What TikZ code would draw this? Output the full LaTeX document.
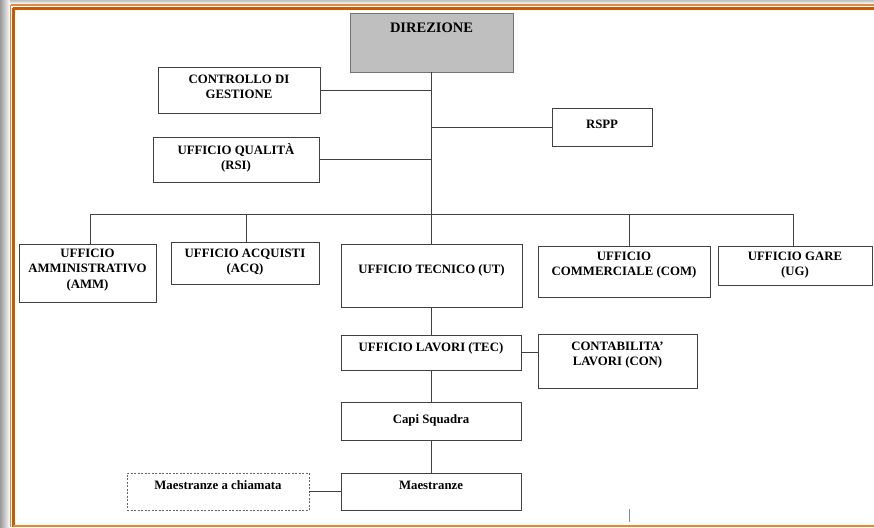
\documentclass[tikz,border=0pt]{standalone}
\usepackage{fontspec}
\setmainfont{Liberation Serif}
\usetikzlibrary{positioning}
\definecolor{orangeA}{HTML}{C85A00}
\definecolor{orangeB}{HTML}{E08A2C}
\definecolor{lineC}{HTML}{404040}
\begin{document}
\begin{tikzpicture}[x=1pt,y=-1pt,
  box/.style={draw=lineC, line width=0.9pt, fill=white, inner sep=0pt},
  txt/.style={font=\bfseries\fontsize{12.8}{15.5}\selectfont, align=center, inner sep=0pt, text=black},
  conn/.style={draw=lineC, line width=0.8pt}]
\useasboundingbox (0,0) rectangle (874,527);
% frame
\shade[left color=black!40, right color=white] (0,0) rectangle (10,527);
\shade[top color=black!25, bottom color=white] (10,0) rectangle (874,4);
\draw[orangeA!70, line width=1.2pt] (10.5,5) -- (874,5);
\draw[orangeA, line width=3pt] (12.5,8.5) -- (874,8.5);
\draw[orangeA!70, line width=1.2pt] (10.5,5) -- (10.5,527);
\draw[orangeA, line width=3pt] (13,8.5) -- (13,527);
\draw[orangeB, line width=2.5pt] (13,525.8) -- (874,525.8);

% boxes
\node[box, fill=black!25, draw=black!55, minimum width=163, minimum height=59] (dir) at (431.5,42.5) {};
\node[box, minimum width=162, minimum height=46] (cdg) at (239,90) {};
\node[box, minimum width=100, minimum height=38] (rspp) at (602,127) {};
\node[box, minimum width=166, minimum height=45] (qual) at (236,159.5) {};
\node[box, minimum width=137, minimum height=58] (amm) at (87.5,273) {};
\node[box, minimum width=148, minimum height=42] (acq) at (245,263) {};
\node[box, minimum width=181, minimum height=63] (ut) at (431.5,275.5) {};
\node[box, minimum width=172, minimum height=51] (com) at (624,271.5) {};
\node[box, minimum width=154, minimum height=39] (ug) at (795,265.5) {};
\node[box, minimum width=180, minimum height=35] (lav) at (431,352.5) {};
\node[box, minimum width=159, minimum height=54] (con) at (617.5,361) {};
\node[box, minimum width=180, minimum height=38] (capi) at (431,421) {};
\node[box, minimum width=180, minimum height=37] (mae) at (431,491.5) {};
\node[box, draw=black!60, dash pattern=on 2pt off 1.5pt, minimum width=182, minimum height=37] (mch) at (218,491.5) {};

% texts
\node[txt, font=\bfseries\fontsize{14.5}{17}\selectfont] (dir-t) at (431.5,28) {DIREZIONE};
\node[txt] (cdg-t) at (239,87) {CONTROLLO DI\\GESTIONE};
\node[txt] (rspp-t) at (602,124) {RSPP};
\node[txt] (qual-t) at (236,158) {UFFICIO QUALITÀ\\(RSI)};
\node[txt] (amm-t) at (87.5,270) {UFFICIO\\AMMINISTRATIVO\\(AMM)};
\node[txt] (acq-t) at (245,262) {UFFICIO ACQUISTI\\(ACQ)};
\node[txt] (ut-t) at (431.5,270) {UFFICIO TECNICO (UT)};
\node[txt] (com-t) at (624,265) {UFFICIO\\COMMERCIALE (COM)};
\node[txt] (ug-t) at (795,265) {UFFICIO GARE\\(UG)};
\node[txt] (lav-t) at (431,348) {UFFICIO LAVORI (TEC)};
\node[txt] (con-t) at (617.5,355) {CONTABILITA'\\LAVORI (CON)};
\node[txt] (capi-t) at (431,420) {Capi Squadra};
\node[txt] (mae-t) at (431,485) {Maestranze};
\node[txt] (mch-t) at (218,485) {Maestranze a chiamata};

% connectors
\coordinate (busL) at (90,214);
\coordinate (busR) at (793,214);
\coordinate (dropAcq) at (246,214);
\coordinate (dropCom) at (629,214);
\draw[conn] (dir.south) -- (dir.south |- ut.north);
\draw[conn] (cdg.east) -- (cdg.east -| dir.south);
\draw[conn] (rspp.west) -- (rspp.west -| dir.south);
\draw[conn] (qual.east) -- (qual.east -| dir.south);
\draw[conn] (busL) -- (busR);
\draw[conn] (busL) -- (busL |- amm.north);
\draw[conn] (dropAcq) -- (dropAcq |- acq.north);
\draw[conn] (dropCom) -- (dropCom |- com.north);
\draw[conn] (busR) -- (busR |- ug.north);
\draw[conn] (ut.south -| lav.north) -- (lav.north);
\draw[conn] (lav.east) -- (lav.east -| con.west);
\draw[conn] (lav.south) -- (capi.north);
\draw[conn] (capi.south) -- (mae.north);
\draw[conn] (mch.east) -- (mae.west);
\coordinate (tickA) at (629,509);
\coordinate (tickB) at (629,522);
\draw[conn, draw=black!45] (tickA) -- (tickB);
\end{tikzpicture}
\end{document}
